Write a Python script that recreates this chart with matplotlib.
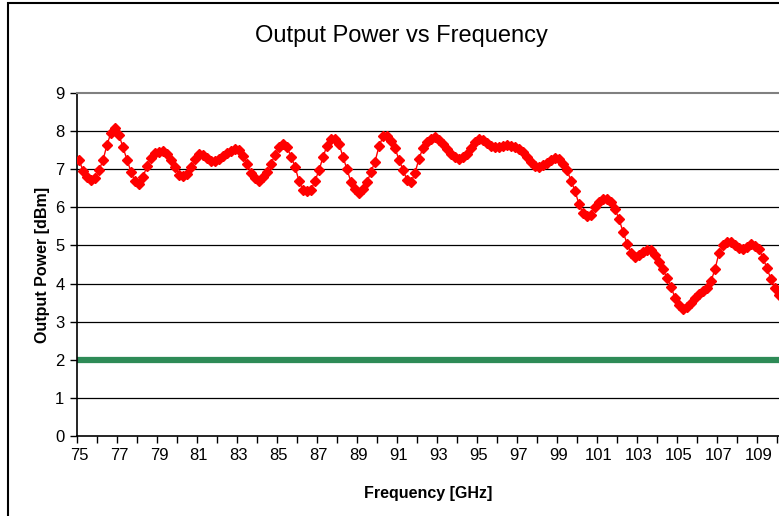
import numpy as np
import matplotlib
matplotlib.use("Agg")
import matplotlib.pyplot as plt
from matplotlib.patches import Rectangle

plt.rcParams['font.family'] = ['Liberation Sans', 'DejaVu Sans']

# frequency grid, 0.2 GHz steps from 75 to 110 GHz
freq = np.round(75.0 + 0.2 * np.arange(176), 1)

power = [
    7.25, 6.96, 6.80, 6.73, 6.76, 6.97, 7.24, 7.64, 7.96, 8.08,
    7.90, 7.57, 7.25, 6.93, 6.68, 6.61, 6.80, 7.08, 7.30, 7.42,
    7.45, 7.48, 7.40, 7.25, 7.05, 6.86, 6.83, 6.88, 7.05, 7.26,
    7.40, 7.37, 7.30, 7.21, 7.22, 7.28, 7.35, 7.42, 7.49, 7.54,
    7.50, 7.36, 7.13, 6.90, 6.76, 6.70, 6.80, 6.92, 7.15, 7.37,
    7.58, 7.66, 7.58, 7.33, 7.07, 6.69, 6.46, 6.44, 6.45, 6.70,
    6.97, 7.32, 7.62, 7.78, 7.78, 7.67, 7.32, 7.00, 6.66, 6.47,
    6.38, 6.47, 6.66, 6.93, 7.20, 7.60, 7.86, 7.88, 7.75, 7.55,
    7.25, 6.98, 6.72, 6.66, 6.90, 7.28, 7.56, 7.72, 7.80, 7.85,
    7.77, 7.66, 7.53, 7.40, 7.32, 7.27, 7.32, 7.40, 7.56, 7.72,
    7.80, 7.76, 7.68, 7.61, 7.57, 7.59, 7.62, 7.63, 7.61, 7.58,
    7.53, 7.44, 7.32, 7.20, 7.08, 7.06, 7.10, 7.17, 7.25, 7.29,
    7.26, 7.13, 6.97, 6.70, 6.43, 6.08, 5.84, 5.77, 5.81, 6.02,
    6.14, 6.23, 6.21, 6.13, 5.96, 5.69, 5.36, 5.05, 4.80, 4.70,
    4.75, 4.83, 4.88, 4.88, 4.75, 4.56, 4.37, 4.15, 3.92, 3.62,
    3.43, 3.33, 3.38, 3.48, 3.62, 3.72, 3.80, 3.88, 4.06, 4.38,
    4.80, 5.00, 5.09, 5.08, 5.00, 4.93, 4.91, 4.97, 5.03, 4.99,
    4.90, 4.67, 4.40, 4.11, 3.88, 3.70,
]

# 2 dBm spec line
limit_freq = [74.9, 110.0]
limit_power = [2, 2]

tick_labels = list(range(75, 110, 2))

fig = plt.figure(figsize=(7.79, 5.16), dpi=100)
ax = fig.add_axes([77/779, 80/516, 702/779, 343/516])

ax.plot(limit_freq, limit_power, color="#2e8b57", lw=4.5, solid_capstyle="butt", zorder=2)
ax.plot(freq, power, color="red", lw=1, marker="D", ms=5.5, mec="red", mfc="red", zorder=3)

ax.set_xlim(74.9, 110.0)
ax.set_ylim(0, 9)
ax.set_yticks(range(0, 10))
ax.set_xticks(tick_labels)
ax.set_xticks(np.arange(74.9, 110.0, 1.0), minor=True)
ax.tick_params(axis="x", which="major", length=0, pad=9, labelsize=12)
ax.tick_params(axis="x", which="minor", length=5, width=1, direction="out")
ax.tick_params(axis="y", length=5, width=1, direction="out", pad=4, labelsize=12)

for v in range(1, 9):
    ax.axhline(v, color="black", lw=0.9, zorder=1)

ax.spines["top"].set_color("#808080")
ax.spines["top"].set_linewidth(1.5)
ax.spines["right"].set_visible(False)
ax.spines["left"].set_linewidth(1.2)
ax.spines["bottom"].set_linewidth(1.2)

ax.set_xlabel("Frequency [GHz]", fontsize=11.5, fontweight="bold", labelpad=16)
ax.set_ylabel("Output Power [dBm]", fontsize=11.5, fontweight="bold", labelpad=4)

fig.text(401/779, 1 - 36/516, "Output Power vs Frequency", fontsize=17,
         ha="center", va="center")

# chart-area frame
fig.patches.append(Rectangle((8/779, -0.1), 1.2, 1.1 - 3/516, transform=fig.transFigure,
                             fill=False, ec="black", lw=1.5))

fig.savefig("out.png", dpi=100)
